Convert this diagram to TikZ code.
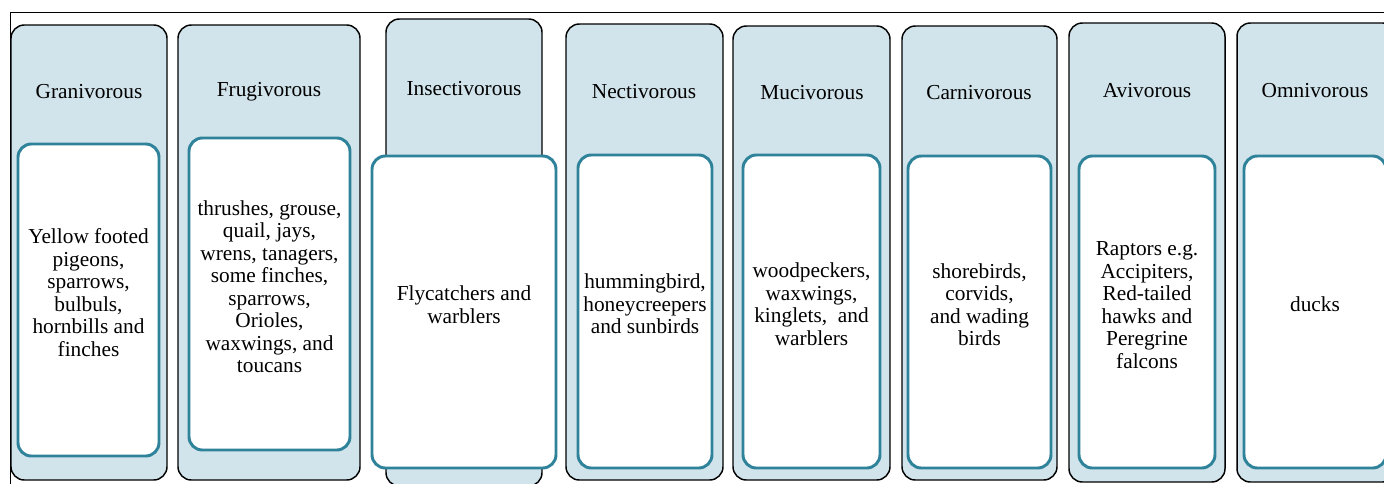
\documentclass[tikz,border=0pt]{standalone}
\usepackage{fontspec}
\setmainfont{Liberation Serif}
\usetikzlibrary{fit}
\definecolor{dietfill}{RGB}{210,228,235}
\definecolor{dietedge}{RGB}{46,130,153}

\begin{document}
\begin{tikzpicture}[
        x=0.75pt, y=-0.75pt,
        dietcol/.style={rectangle, draw=black, line width=1.1pt, rounded corners=10pt, fill=dietfill, inner sep=0pt},
        birdbox/.style={rectangle, draw=dietedge, line width=2.2pt, rounded corners=10pt, fill=white, inner sep=0pt, align=center, font=\fontsize{16}{16.9}\selectfont},
        headtext/.style={inner sep=0pt, font=\fontsize{16}{16.9}\selectfont}
    ]
        \useasboundingbox (0,0) rectangle (1384,483);
        \clip (0,0) rectangle (1384,483);
        \draw[line width=1.1pt] (10.5,490) -- (10.5,12.5) -- (1390,12.5);

        % outer columns
        \node[dietcol, fit={(11,25) (167,480)}] (gran) {};
        \node[dietcol, fit={(178,25) (360,480)}] (frug) {};
        \node[dietcol, fit={(386,19) (542,486)}] (insect) {};
        \node[dietcol, fit={(566,24) (723,480)}] (nect) {};
        \node[dietcol, fit={(733,26) (890,480)}] (muci) {};
        \node[dietcol, fit={(902,26) (1057,480)}] (carni) {};
        \node[dietcol, fit={(1069,23) (1225,482)}] (avi) {};
        \node[dietcol, fit={(1237,23) (1396,482)}] (omni) {};

        % diet names
        \node[headtext] (granT) at (89,92) {Granivorous};
        \node[headtext] (frugT) at (269,92) {Frugivorous};
        \node[headtext] (insectT) at (464,89) {Insectivorous};
        \node[headtext] (nectT) at (644,92) {Nectivorous};
        \node[headtext] (muciT) at (812,93) {Mucivorous};
        \node[headtext] (carniT) at (979,93) {Carnivorous};
        \node[headtext] (aviT) at (1147,91) {Avivorous};
        \node[headtext] (omniT) at (1315,91) {Omnivorous};

        % bird examples
        \node[birdbox, fit={(18,144) (159,456)}] (granB) {Yellow footed\\pigeons,\\sparrows,\\bulbuls,\\hornbills and\\finches};
        \node[birdbox, fit={(189,138) (350,450)}] (frugB) {thrushes, grouse,\\quail, jays,\\wrens, tanagers,\\some finches,\\sparrows,\\Orioles,\\waxwings, and\\toucans};
        \node[birdbox, fit={(372,156) (556,468)}] (insectB) {Flycatchers and\\warblers};
        \node[birdbox, fit={(578,155) (712,468)}] (nectB) {hummingbird,\\honeycreepers\\and sunbirds};
        \node[birdbox, fit={(743,155) (880,468)}] (muciB) {woodpeckers,\\waxwings,\\kinglets,~ and\\warblers};
        \node[birdbox, fit={(908,156) (1051,468)}] (carniB) {shorebirds,\\corvids,\\and wading\\birds};
        \node[birdbox, fit={(1079,156) (1215,468)}] (aviB) {Raptors e.g.\\Accipiters,\\Red-tailed\\hawks and\\Peregrine\\falcons};
        \node[birdbox, fit={(1244,156) (1386,468)}] (omniB) {ducks};
    \end{tikzpicture}
\end{document}
